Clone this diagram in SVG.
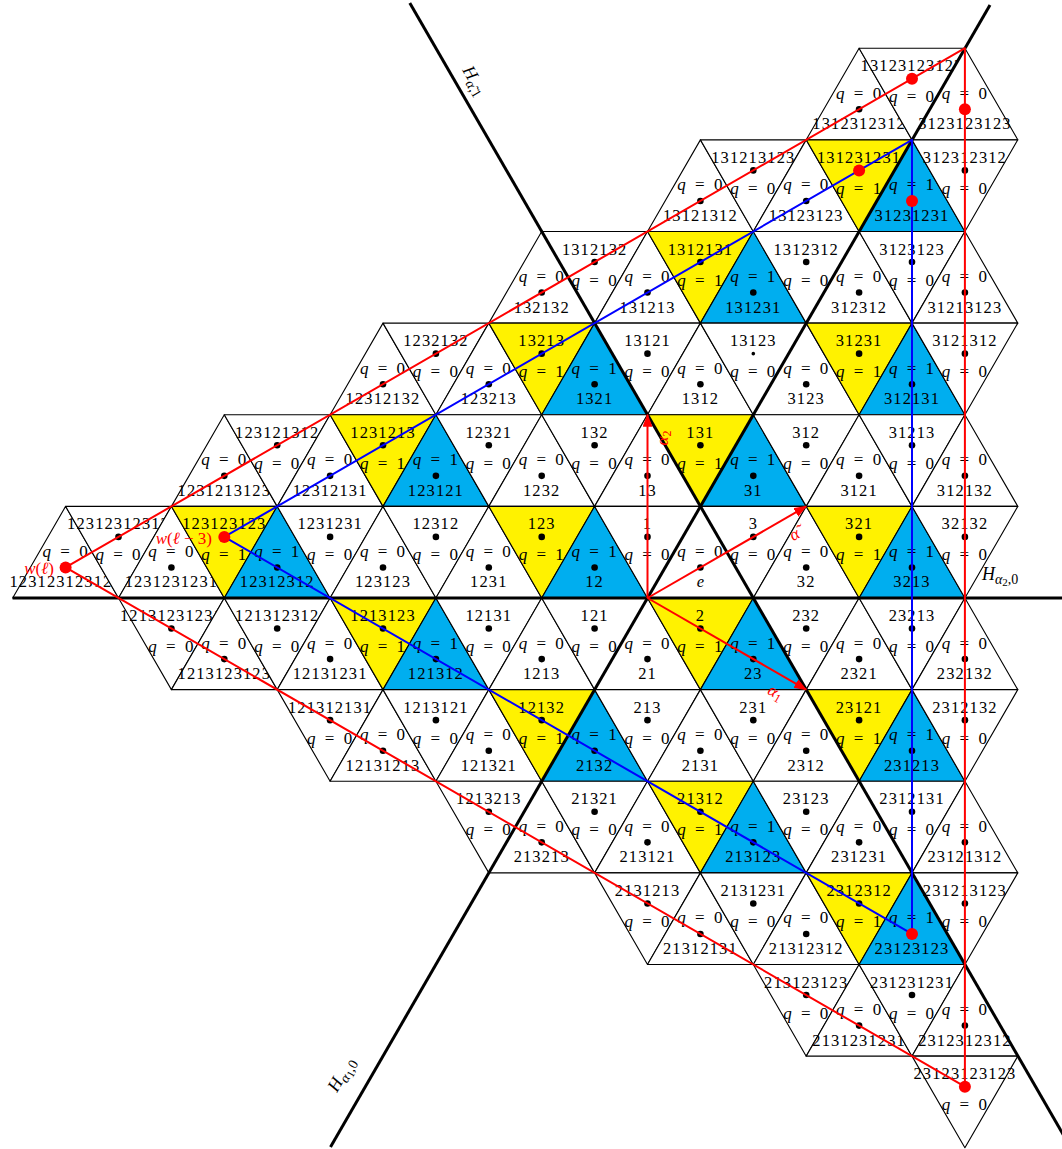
<svg xmlns="http://www.w3.org/2000/svg" xmlns:xlink="http://www.w3.org/1999/xlink" width="1062" height="1149" viewBox="0 0 1062 1149">
<style>
.w{fill:#fff}.y{fill:#FFF200}.b{fill:#00AEEF}
text{font-family:"Liberation Serif","Times New Roman",serif;font-size:16.5px;text-anchor:middle;fill:#000}
.l{letter-spacing:1.1px}
.q{font-size:17px;letter-spacing:1px;word-spacing:3px}
.i{font-style:italic}
.hp{stroke:#000;stroke-width:3;fill:none}
.rp{stroke:#f00;stroke-width:2;fill:none;stroke-linejoin:round}
.bp{stroke:#00f;stroke-width:2;fill:none;stroke-linejoin:round}
.ar{stroke:#f00;stroke-width:2;fill:none;marker-end:url(#ah)}
.rd{fill:#f00}
.rt{fill:#f00;font-size:17px}
.hl{font-size:18px}
</style>
<defs>
<polygon id="U" points="0,-61.09 52.9,30.54 -52.9,30.54" stroke="#000" stroke-width="1.1" stroke-linejoin="round"/>
<polygon id="D" points="-52.9,-30.54 52.9,-30.54 0,61.09" stroke="#000" stroke-width="1.1" stroke-linejoin="round"/>
<marker id="ah" markerUnits="userSpaceOnUse" markerWidth="13" markerHeight="10" refX="12" refY="5" orient="auto"><path d="M0,0 L13,5 L0,10 Z" fill="#f00"/></marker>
</defs>
<rect width="1062" height="1149" fill="#fff"/>
<g id="alcoves">
<!-- band r=5 -->
<g id="w1312312312" transform="translate(859.1,109.31)"><use href="#U" class="w"/><circle r="3.3"/><text class="q" y="-10.5"><tspan class="i">q</tspan> = 0</text><text class="l" y="20">1312312312</text></g>
<g id="w13123123123" transform="translate(912,78.76)"><use href="#D" class="w"/><text class="l" y="-7.5">13123123123</text><text class="q" y="23.5"><tspan class="i">q</tspan> = 0</text></g>
<g id="w3123123123" transform="translate(964.9,109.31)"><use href="#U" class="w"/><text class="q" y="-10.5"><tspan class="i">q</tspan> = 0</text><text class="l" y="20">3123123123</text></g>
<!-- band r=4 -->
<g id="w13121312" transform="translate(700.4,200.94)"><use href="#U" class="w"/><circle r="3.3"/><text class="q" y="-10.5"><tspan class="i">q</tspan> = 0</text><text class="l" y="20">13121312</text></g>
<g id="w131213123" transform="translate(753.3,170.39)"><use href="#D" class="w"/><circle r="3.3"/><text class="l" y="-7.5">131213123</text><text class="q" y="23.5"><tspan class="i">q</tspan> = 0</text></g>
<g id="w13123123" transform="translate(806.2,200.94)"><use href="#U" class="w"/><circle r="3.3"/><text class="q" y="-10.5"><tspan class="i">q</tspan> = 0</text><text class="l" y="20">13123123</text></g>
<g id="w131231231" transform="translate(859.1,170.39)"><use href="#D" class="y"/><text class="l" y="-7.5">131231231</text><text class="q" y="23.5"><tspan class="i">q</tspan> = 1</text></g>
<g id="w31231231" transform="translate(912,200.94)"><use href="#U" class="b"/><text class="q" y="-10.5"><tspan class="i">q</tspan> = 1</text><text class="l" y="20">31231231</text></g>
<g id="w312312312" transform="translate(964.9,170.39)"><use href="#D" class="w"/><circle r="3.3"/><text class="l" y="-7.5">312312312</text><text class="q" y="23.5"><tspan class="i">q</tspan> = 0</text></g>
<!-- band r=3 -->
<g id="w132132" transform="translate(541.7,292.57)"><use href="#U" class="w"/><circle r="3.3"/><text class="q" y="-10.5"><tspan class="i">q</tspan> = 0</text><text class="l" y="20">132132</text></g>
<g id="w1312132" transform="translate(594.6,262.02)"><use href="#D" class="w"/><circle r="3.3"/><text class="l" y="-7.5">1312132</text><text class="q" y="23.5"><tspan class="i">q</tspan> = 0</text></g>
<g id="w131213" transform="translate(647.5,292.57)"><use href="#U" class="w"/><circle r="3.3"/><text class="q" y="-10.5"><tspan class="i">q</tspan> = 0</text><text class="l" y="20">131213</text></g>
<g id="w1312131" transform="translate(700.4,262.02)"><use href="#D" class="y"/><circle r="3.3"/><text class="l" y="-7.5">1312131</text><text class="q" y="23.5"><tspan class="i">q</tspan> = 1</text></g>
<g id="w131231" transform="translate(753.3,292.57)"><use href="#U" class="b"/><circle r="3.3"/><text class="q" y="-10.5"><tspan class="i">q</tspan> = 1</text><text class="l" y="20">131231</text></g>
<g id="w1312312" transform="translate(806.2,262.02)"><use href="#D" class="w"/><circle r="3.3"/><text class="l" y="-7.5">1312312</text><text class="q" y="23.5"><tspan class="i">q</tspan> = 0</text></g>
<g id="w312312" transform="translate(859.1,292.57)"><use href="#U" class="w"/><circle r="3.3"/><text class="q" y="-10.5"><tspan class="i">q</tspan> = 0</text><text class="l" y="20">312312</text></g>
<g id="w3123123" transform="translate(912,262.02)"><use href="#D" class="w"/><circle r="3.3"/><text class="l" y="-7.5">3123123</text><text class="q" y="23.5"><tspan class="i">q</tspan> = 0</text></g>
<g id="w31213123" transform="translate(964.9,292.57)"><use href="#U" class="w"/><circle r="3.3"/><text class="q" y="-10.5"><tspan class="i">q</tspan> = 0</text><text class="l" y="20">31213123</text></g>
<!-- band r=2 -->
<g id="w12312132" transform="translate(383,384.2)"><use href="#U" class="w"/><circle r="3.3"/><text class="q" y="-10.5"><tspan class="i">q</tspan> = 0</text><text class="l" y="20">12312132</text></g>
<g id="w1232132" transform="translate(435.9,353.65)"><use href="#D" class="w"/><circle r="3.3"/><text class="l" y="-7.5">1232132</text><text class="q" y="23.5"><tspan class="i">q</tspan> = 0</text></g>
<g id="w123213" transform="translate(488.8,384.2)"><use href="#U" class="w"/><circle r="3.3"/><text class="q" y="-10.5"><tspan class="i">q</tspan> = 0</text><text class="l" y="20">123213</text></g>
<g id="w13213" transform="translate(541.7,353.65)"><use href="#D" class="y"/><circle r="3.3"/><text class="l" y="-7.5">13213</text><text class="q" y="23.5"><tspan class="i">q</tspan> = 1</text></g>
<g id="w1321" transform="translate(594.6,384.2)"><use href="#U" class="b"/><circle r="3.3"/><text class="q" y="-10.5"><tspan class="i">q</tspan> = 1</text><text class="l" y="20">1321</text></g>
<g id="w13121" transform="translate(647.5,353.65)"><use href="#D" class="w"/><circle r="3.3"/><text class="l" y="-7.5">13121</text><text class="q" y="23.5"><tspan class="i">q</tspan> = 0</text></g>
<g id="w1312" transform="translate(700.4,384.2)"><use href="#U" class="w"/><circle r="3.3"/><text class="q" y="-10.5"><tspan class="i">q</tspan> = 0</text><text class="l" y="20">1312</text></g>
<g id="w13123" transform="translate(753.3,353.65)"><use href="#D" class="w"/><circle r="1.8"/><text class="l" y="-7.5">13123</text><text class="q" y="23.5"><tspan class="i">q</tspan> = 0</text></g>
<g id="w3123" transform="translate(806.2,384.2)"><use href="#U" class="w"/><circle r="3.3"/><text class="q" y="-10.5"><tspan class="i">q</tspan> = 0</text><text class="l" y="20">3123</text></g>
<g id="w31231" transform="translate(859.1,353.65)"><use href="#D" class="y"/><circle r="3.3"/><text class="l" y="-7.5">31231</text><text class="q" y="23.5"><tspan class="i">q</tspan> = 1</text></g>
<g id="w312131" transform="translate(912,384.2)"><use href="#U" class="b"/><circle r="3.3"/><text class="q" y="-10.5"><tspan class="i">q</tspan> = 1</text><text class="l" y="20">312131</text></g>
<g id="w3121312" transform="translate(964.9,353.65)"><use href="#D" class="w"/><circle r="3.3"/><text class="l" y="-7.5">3121312</text><text class="q" y="23.5"><tspan class="i">q</tspan> = 0</text></g>
<!-- band r=1 -->
<g id="w1231213123" transform="translate(224.3,475.83)"><use href="#U" class="w"/><circle r="3.3"/><text class="q" y="-10.5"><tspan class="i">q</tspan> = 0</text><text class="l" y="20">1231213123</text></g>
<g id="w123121312" transform="translate(277.2,445.28)"><use href="#D" class="w"/><circle r="3.3"/><text class="l" y="-7.5">123121312</text><text class="q" y="23.5"><tspan class="i">q</tspan> = 0</text></g>
<g id="w12312131" transform="translate(330.1,475.83)"><use href="#U" class="w"/><circle r="3.3"/><text class="q" y="-10.5"><tspan class="i">q</tspan> = 0</text><text class="l" y="20">12312131</text></g>
<g id="w1231213" transform="translate(383,445.28)"><use href="#D" class="y"/><circle r="3.3"/><text class="l" y="-7.5">1231213</text><text class="q" y="23.5"><tspan class="i">q</tspan> = 1</text></g>
<g id="w123121" transform="translate(435.9,475.83)"><use href="#U" class="b"/><circle r="3.3"/><text class="q" y="-10.5"><tspan class="i">q</tspan> = 1</text><text class="l" y="20">123121</text></g>
<g id="w12321" transform="translate(488.8,445.28)"><use href="#D" class="w"/><circle r="3.3"/><text class="l" y="-7.5">12321</text><text class="q" y="23.5"><tspan class="i">q</tspan> = 0</text></g>
<g id="w1232" transform="translate(541.7,475.83)"><use href="#U" class="w"/><circle r="3.3"/><text class="q" y="-10.5"><tspan class="i">q</tspan> = 0</text><text class="l" y="20">1232</text></g>
<g id="w132" transform="translate(594.6,445.28)"><use href="#D" class="w"/><circle r="3.3"/><text class="l" y="-7.5">132</text><text class="q" y="23.5"><tspan class="i">q</tspan> = 0</text></g>
<g id="w13" transform="translate(647.5,475.83)"><use href="#U" class="w"/><circle r="3.3"/><text class="q" y="-10.5"><tspan class="i">q</tspan> = 0</text><text class="l" y="20">13</text></g>
<g id="w131" transform="translate(700.4,445.28)"><use href="#D" class="y"/><circle r="3.3"/><text class="l" y="-7.5">131</text><text class="q" y="23.5"><tspan class="i">q</tspan> = 1</text></g>
<g id="w31" transform="translate(753.3,475.83)"><use href="#U" class="b"/><circle r="3.3"/><text class="q" y="-10.5"><tspan class="i">q</tspan> = 1</text><text class="l" y="20">31</text></g>
<g id="w312" transform="translate(806.2,445.28)"><use href="#D" class="w"/><circle r="3.3"/><text class="l" y="-7.5">312</text><text class="q" y="23.5"><tspan class="i">q</tspan> = 0</text></g>
<g id="w3121" transform="translate(859.1,475.83)"><use href="#U" class="w"/><circle r="3.3"/><text class="q" y="-10.5"><tspan class="i">q</tspan> = 0</text><text class="l" y="20">3121</text></g>
<g id="w31213" transform="translate(912,445.28)"><use href="#D" class="w"/><circle r="3.3"/><text class="l" y="-7.5">31213</text><text class="q" y="23.5"><tspan class="i">q</tspan> = 0</text></g>
<g id="w312132" transform="translate(964.9,475.83)"><use href="#U" class="w"/><circle r="3.3"/><text class="q" y="-10.5"><tspan class="i">q</tspan> = 0</text><text class="l" y="20">312132</text></g>
<!-- band r=0 -->
<g id="w123123123123" transform="translate(65.6,567.46)"><use href="#U" class="w"/><text class="q" y="-10.5"><tspan class="i">q</tspan> = 0</text><text class="l" y="20">123123123123</text></g>
<g id="w12312312312" transform="translate(118.5,536.91)"><use href="#D" class="w"/><circle r="3.3"/><text class="l" y="-7.5">12312312312</text><text class="q" y="23.5"><tspan class="i">q</tspan> = 0</text></g>
<g id="w1231231231" transform="translate(171.4,567.46)"><use href="#U" class="w"/><circle r="3.3"/><text class="q" y="-10.5"><tspan class="i">q</tspan> = 0</text><text class="l" y="20">1231231231</text></g>
<g id="w123123123" transform="translate(224.3,536.91)"><use href="#D" class="y"/><text class="l" y="-7.5">123123123</text><text class="q" y="23.5"><tspan class="i">q</tspan> = 1</text></g>
<g id="w12312312" transform="translate(277.2,567.46)"><use href="#U" class="b"/><circle r="3.3"/><text class="q" y="-10.5"><tspan class="i">q</tspan> = 1</text><text class="l" y="20">12312312</text></g>
<g id="w1231231" transform="translate(330.1,536.91)"><use href="#D" class="w"/><circle r="3.3"/><text class="l" y="-7.5">1231231</text><text class="q" y="23.5"><tspan class="i">q</tspan> = 0</text></g>
<g id="w123123" transform="translate(383,567.46)"><use href="#U" class="w"/><circle r="3.3"/><text class="q" y="-10.5"><tspan class="i">q</tspan> = 0</text><text class="l" y="20">123123</text></g>
<g id="w12312" transform="translate(435.9,536.91)"><use href="#D" class="w"/><circle r="3.3"/><text class="l" y="-7.5">12312</text><text class="q" y="23.5"><tspan class="i">q</tspan> = 0</text></g>
<g id="w1231" transform="translate(488.8,567.46)"><use href="#U" class="w"/><circle r="3.3"/><text class="q" y="-10.5"><tspan class="i">q</tspan> = 0</text><text class="l" y="20">1231</text></g>
<g id="w123" transform="translate(541.7,536.91)"><use href="#D" class="y"/><circle r="3.3"/><text class="l" y="-7.5">123</text><text class="q" y="23.5"><tspan class="i">q</tspan> = 1</text></g>
<g id="w12" transform="translate(594.6,567.46)"><use href="#U" class="b"/><circle r="3.3"/><text class="q" y="-10.5"><tspan class="i">q</tspan> = 1</text><text class="l" y="20">12</text></g>
<g id="w1" transform="translate(647.5,536.91)"><use href="#D" class="w"/><circle r="3.3"/><text class="l" y="-7.5">1</text><text class="q" y="23.5"><tspan class="i">q</tspan> = 0</text></g>
<g id="we" transform="translate(700.4,567.46)"><use href="#U" class="w"/><circle r="3.3"/><text class="q" y="-10.5"><tspan class="i">q</tspan> = 0</text><text class="i" y="20">e</text></g>
<g id="w3" transform="translate(753.3,536.91)"><use href="#D" class="w"/><circle r="3.3"/><text class="l" y="-7.5">3</text><text class="q" y="23.5"><tspan class="i">q</tspan> = 0</text></g>
<g id="w32" transform="translate(806.2,567.46)"><use href="#U" class="w"/><circle r="3.3"/><text class="q" y="-10.5"><tspan class="i">q</tspan> = 0</text><text class="l" y="20">32</text></g>
<g id="w321" transform="translate(859.1,536.91)"><use href="#D" class="y"/><circle r="3.3"/><text class="l" y="-7.5">321</text><text class="q" y="23.5"><tspan class="i">q</tspan> = 1</text></g>
<g id="w3213" transform="translate(912,567.46)"><use href="#U" class="b"/><circle r="3.3"/><text class="q" y="-10.5"><tspan class="i">q</tspan> = 1</text><text class="l" y="20">3213</text></g>
<g id="w32132" transform="translate(964.9,536.91)"><use href="#D" class="w"/><circle r="3.3"/><text class="l" y="-7.5">32132</text><text class="q" y="23.5"><tspan class="i">q</tspan> = 0</text></g>
<!-- band r=-1 -->
<g id="w12131231231" transform="translate(171.4,628.54)"><use href="#D" class="w"/><circle r="3.3"/><text class="l" y="-7.5">12131231231</text><text class="q" y="23.5"><tspan class="i">q</tspan> = 0</text></g>
<g id="w1213123123" transform="translate(224.3,659.09)"><use href="#U" class="w"/><circle r="3.3"/><text class="q" y="-10.5"><tspan class="i">q</tspan> = 0</text><text class="l" y="20">1213123123</text></g>
<g id="w121312312" transform="translate(277.2,628.54)"><use href="#D" class="w"/><circle r="3.3"/><text class="l" y="-7.5">121312312</text><text class="q" y="23.5"><tspan class="i">q</tspan> = 0</text></g>
<g id="w12131231" transform="translate(330.1,659.09)"><use href="#U" class="w"/><circle r="3.3"/><text class="q" y="-10.5"><tspan class="i">q</tspan> = 0</text><text class="l" y="20">12131231</text></g>
<g id="w1213123" transform="translate(383,628.54)"><use href="#D" class="y"/><circle r="3.3"/><text class="l" y="-7.5">1213123</text><text class="q" y="23.5"><tspan class="i">q</tspan> = 1</text></g>
<g id="w121312" transform="translate(435.9,659.09)"><use href="#U" class="b"/><circle r="3.3"/><text class="q" y="-10.5"><tspan class="i">q</tspan> = 1</text><text class="l" y="20">121312</text></g>
<g id="w12131" transform="translate(488.8,628.54)"><use href="#D" class="w"/><circle r="3.3"/><text class="l" y="-7.5">12131</text><text class="q" y="23.5"><tspan class="i">q</tspan> = 0</text></g>
<g id="w1213" transform="translate(541.7,659.09)"><use href="#U" class="w"/><circle r="3.3"/><text class="q" y="-10.5"><tspan class="i">q</tspan> = 0</text><text class="l" y="20">1213</text></g>
<g id="w121" transform="translate(594.6,628.54)"><use href="#D" class="w"/><circle r="3.3"/><text class="l" y="-7.5">121</text><text class="q" y="23.5"><tspan class="i">q</tspan> = 0</text></g>
<g id="w21" transform="translate(647.5,659.09)"><use href="#U" class="w"/><circle r="3.3"/><text class="q" y="-10.5"><tspan class="i">q</tspan> = 0</text><text class="l" y="20">21</text></g>
<g id="w2" transform="translate(700.4,628.54)"><use href="#D" class="y"/><circle r="3.3"/><text class="l" y="-7.5">2</text><text class="q" y="23.5"><tspan class="i">q</tspan> = 1</text></g>
<g id="w23" transform="translate(753.3,659.09)"><use href="#U" class="b"/><circle r="3.3"/><text class="q" y="-10.5"><tspan class="i">q</tspan> = 1</text><text class="l" y="20">23</text></g>
<g id="w232" transform="translate(806.2,628.54)"><use href="#D" class="w"/><circle r="3.3"/><text class="l" y="-7.5">232</text><text class="q" y="23.5"><tspan class="i">q</tspan> = 0</text></g>
<g id="w2321" transform="translate(859.1,659.09)"><use href="#U" class="w"/><circle r="3.3"/><text class="q" y="-10.5"><tspan class="i">q</tspan> = 0</text><text class="l" y="20">2321</text></g>
<g id="w23213" transform="translate(912,628.54)"><use href="#D" class="w"/><circle r="3.3"/><text class="l" y="-7.5">23213</text><text class="q" y="23.5"><tspan class="i">q</tspan> = 0</text></g>
<g id="w232132" transform="translate(964.9,659.09)"><use href="#U" class="w"/><circle r="3.3"/><text class="q" y="-10.5"><tspan class="i">q</tspan> = 0</text><text class="l" y="20">232132</text></g>
<!-- band r=-2 -->
<g id="w121312131" transform="translate(330.1,720.17)"><use href="#D" class="w"/><circle r="3.3"/><text class="l" y="-7.5">121312131</text><text class="q" y="23.5"><tspan class="i">q</tspan> = 0</text></g>
<g id="w12131213" transform="translate(383,750.72)"><use href="#U" class="w"/><circle r="3.3"/><text class="q" y="-10.5"><tspan class="i">q</tspan> = 0</text><text class="l" y="20">12131213</text></g>
<g id="w1213121" transform="translate(435.9,720.17)"><use href="#D" class="w"/><circle r="3.3"/><text class="l" y="-7.5">1213121</text><text class="q" y="23.5"><tspan class="i">q</tspan> = 0</text></g>
<g id="w121321" transform="translate(488.8,750.72)"><use href="#U" class="w"/><circle r="3.3"/><text class="q" y="-10.5"><tspan class="i">q</tspan> = 0</text><text class="l" y="20">121321</text></g>
<g id="w12132" transform="translate(541.7,720.17)"><use href="#D" class="y"/><circle r="3.3"/><text class="l" y="-7.5">12132</text><text class="q" y="23.5"><tspan class="i">q</tspan> = 1</text></g>
<g id="w2132" transform="translate(594.6,750.72)"><use href="#U" class="b"/><circle r="3.3"/><text class="q" y="-10.5"><tspan class="i">q</tspan> = 1</text><text class="l" y="20">2132</text></g>
<g id="w213" transform="translate(647.5,720.17)"><use href="#D" class="w"/><circle r="3.3"/><text class="l" y="-7.5">213</text><text class="q" y="23.5"><tspan class="i">q</tspan> = 0</text></g>
<g id="w2131" transform="translate(700.4,750.72)"><use href="#U" class="w"/><circle r="3.3"/><text class="q" y="-10.5"><tspan class="i">q</tspan> = 0</text><text class="l" y="20">2131</text></g>
<g id="w231" transform="translate(753.3,720.17)"><use href="#D" class="w"/><circle r="3.3"/><text class="l" y="-7.5">231</text><text class="q" y="23.5"><tspan class="i">q</tspan> = 0</text></g>
<g id="w2312" transform="translate(806.2,750.72)"><use href="#U" class="w"/><circle r="3.3"/><text class="q" y="-10.5"><tspan class="i">q</tspan> = 0</text><text class="l" y="20">2312</text></g>
<g id="w23121" transform="translate(859.1,720.17)"><use href="#D" class="y"/><circle r="3.3"/><text class="l" y="-7.5">23121</text><text class="q" y="23.5"><tspan class="i">q</tspan> = 1</text></g>
<g id="w231213" transform="translate(912,750.72)"><use href="#U" class="b"/><circle r="3.3"/><text class="q" y="-10.5"><tspan class="i">q</tspan> = 1</text><text class="l" y="20">231213</text></g>
<g id="w2312132" transform="translate(964.9,720.17)"><use href="#D" class="w"/><circle r="3.3"/><text class="l" y="-7.5">2312132</text><text class="q" y="23.5"><tspan class="i">q</tspan> = 0</text></g>
<!-- band r=-3 -->
<g id="w1213213" transform="translate(488.8,811.8)"><use href="#D" class="w"/><circle r="3.3"/><text class="l" y="-7.5">1213213</text><text class="q" y="23.5"><tspan class="i">q</tspan> = 0</text></g>
<g id="w213213" transform="translate(541.7,842.35)"><use href="#U" class="w"/><circle r="3.3"/><text class="q" y="-10.5"><tspan class="i">q</tspan> = 0</text><text class="l" y="20">213213</text></g>
<g id="w21321" transform="translate(594.6,811.8)"><use href="#D" class="w"/><circle r="3.3"/><text class="l" y="-7.5">21321</text><text class="q" y="23.5"><tspan class="i">q</tspan> = 0</text></g>
<g id="w213121" transform="translate(647.5,842.35)"><use href="#U" class="w"/><circle r="3.3"/><text class="q" y="-10.5"><tspan class="i">q</tspan> = 0</text><text class="l" y="20">213121</text></g>
<g id="w21312" transform="translate(700.4,811.8)"><use href="#D" class="y"/><circle r="3.3"/><text class="l" y="-7.5">21312</text><text class="q" y="23.5"><tspan class="i">q</tspan> = 1</text></g>
<g id="w213123" transform="translate(753.3,842.35)"><use href="#U" class="b"/><circle r="3.3"/><text class="q" y="-10.5"><tspan class="i">q</tspan> = 1</text><text class="l" y="20">213123</text></g>
<g id="w23123" transform="translate(806.2,811.8)"><use href="#D" class="w"/><circle r="3.3"/><text class="l" y="-7.5">23123</text><text class="q" y="23.5"><tspan class="i">q</tspan> = 0</text></g>
<g id="w231231" transform="translate(859.1,842.35)"><use href="#U" class="w"/><circle r="3.3"/><text class="q" y="-10.5"><tspan class="i">q</tspan> = 0</text><text class="l" y="20">231231</text></g>
<g id="w2312131" transform="translate(912,811.8)"><use href="#D" class="w"/><circle r="3.3"/><text class="l" y="-7.5">2312131</text><text class="q" y="23.5"><tspan class="i">q</tspan> = 0</text></g>
<g id="w23121312" transform="translate(964.9,842.35)"><use href="#U" class="w"/><circle r="3.3"/><text class="q" y="-10.5"><tspan class="i">q</tspan> = 0</text><text class="l" y="20">23121312</text></g>
<!-- band r=-4 -->
<g id="w2131213" transform="translate(647.5,903.43)"><use href="#D" class="w"/><circle r="3.3"/><text class="l" y="-7.5">2131213</text><text class="q" y="23.5"><tspan class="i">q</tspan> = 0</text></g>
<g id="w21312131" transform="translate(700.4,933.98)"><use href="#U" class="w"/><circle r="3.3"/><text class="q" y="-10.5"><tspan class="i">q</tspan> = 0</text><text class="l" y="20">21312131</text></g>
<g id="w2131231" transform="translate(753.3,903.43)"><use href="#D" class="w"/><circle r="3.3"/><text class="l" y="-7.5">2131231</text><text class="q" y="23.5"><tspan class="i">q</tspan> = 0</text></g>
<g id="w21312312" transform="translate(806.2,933.98)"><use href="#U" class="w"/><circle r="3.3"/><text class="q" y="-10.5"><tspan class="i">q</tspan> = 0</text><text class="l" y="20">21312312</text></g>
<g id="w2312312" transform="translate(859.1,903.43)"><use href="#D" class="y"/><circle r="3.3"/><text class="l" y="-7.5">2312312</text><text class="q" y="23.5"><tspan class="i">q</tspan> = 1</text></g>
<g id="w23123123" transform="translate(912,933.98)"><use href="#U" class="b"/><text class="q" y="-10.5"><tspan class="i">q</tspan> = 1</text><text class="l" y="20">23123123</text></g>
<g id="w231213123" transform="translate(964.9,903.43)"><use href="#D" class="w"/><circle r="3.3"/><text class="l" y="-7.5">231213123</text><text class="q" y="23.5"><tspan class="i">q</tspan> = 0</text></g>
<!-- band r=-5 -->
<g id="w213123123" transform="translate(806.2,995.06)"><use href="#D" class="w"/><circle r="3.3"/><text class="l" y="-7.5">213123123</text><text class="q" y="23.5"><tspan class="i">q</tspan> = 0</text></g>
<g id="w2131231231" transform="translate(859.1,1025.61)"><use href="#U" class="w"/><circle r="3.3"/><text class="q" y="-10.5"><tspan class="i">q</tspan> = 0</text><text class="l" y="20">2131231231</text></g>
<g id="w231231231" transform="translate(912,995.06)"><use href="#D" class="w"/><circle r="3.3"/><text class="l" y="-7.5">231231231</text><text class="q" y="23.5"><tspan class="i">q</tspan> = 0</text></g>
<g id="w2312312312" transform="translate(964.9,1025.61)"><use href="#U" class="w"/><circle r="3.3"/><text class="q" y="-10.5"><tspan class="i">q</tspan> = 0</text><text class="l" y="20">2312312312</text></g>
<!-- band r=-6 -->
<g id="w23123123123" transform="translate(964.9,1086.69)"><use href="#D" class="w"/><text class="l" y="-7.5">23123123123</text><text class="q" y="23.5"><tspan class="i">q</tspan> = 0</text></g>
</g>
<g id="connectors">
<line class="hp" x1="12.6" y1="598" x2="1062" y2="598"/>
<line class="hp" x1="330.5" y1="1147" x2="990" y2="5"/>
<line class="hp" x1="409.8" y1="3" x2="1064" y2="1136"/>
<polyline class="rp" points="65.6,567.46 964.9,48.2 964.9,1086.69 65.6,567.46"/>
<polyline class="bp" points="224.3,536.91 912,139.85 912,933.98 224.3,536.91"/>
<line class="ar" x1="647.5" y1="598" x2="647.5" y2="414.74"/>
<line class="ar" x1="647.5" y1="598" x2="806.2" y2="506.37"/>
<line class="ar" x1="647.5" y1="598" x2="806.2" y2="689.63"/>
<text class="rt" transform="translate(668,438) rotate(-90)"><tspan class="i">α</tspan><tspan font-size="12" dy="3">2</tspan></text>
<text class="rt i" transform="translate(797,539) rotate(-30)">α̃</text>
<text class="rt" transform="translate(773,697) rotate(30)"><tspan class="i">α</tspan><tspan font-size="12" dy="3">1</tspan></text>
<text class="hl" transform="translate(462,70) rotate(60)" style="text-anchor:start"><tspan class="i">H</tspan><tspan class="i" font-size="14" dy="4">α̃</tspan><tspan font-size="14">,1</tspan></text>
<text class="hl" transform="translate(337,1093) rotate(-60)" style="text-anchor:start"><tspan class="i">H</tspan><tspan class="i" font-size="14" dy="4">α</tspan><tspan font-size="11" dy="2">1</tspan><tspan font-size="14" dy="-2">,0</tspan></text>
<text class="hl" x="982" y="580" style="text-anchor:start"><tspan class="i">H</tspan><tspan class="i" font-size="14" dy="4">α</tspan><tspan font-size="11" dy="2">2</tspan><tspan font-size="14" dy="-2">,0</tspan></text>
</g>
<g id="points">
<g id="p-wl"><circle class="rd" cx="65.6" cy="567.46" r="6"/><text class="rt" x="54" y="574" style="text-anchor:end"><tspan class="i">w</tspan>(<tspan class="i">ℓ</tspan>)</text></g>
<g id="p-wl3"><circle class="rd" cx="224.3" cy="536.91" r="6"/><text class="rt" x="212" y="544" style="text-anchor:end"><tspan class="i">w</tspan>(<tspan class="i">ℓ</tspan> − 3)</text></g>
<circle id="p1" class="rd" cx="859.1" cy="170.39" r="6"/>
<circle id="p2" class="rd" cx="912" cy="200.94" r="6"/>
<circle id="p3" class="rd" cx="912" cy="78.76" r="6"/>
<circle id="p4" class="rd" cx="964.9" cy="109.31" r="6"/>
<circle id="p5" class="rd" cx="912" cy="933.98" r="6"/>
<circle id="p6" class="rd" cx="964.9" cy="1086.69" r="6"/>
</g>
</svg>
